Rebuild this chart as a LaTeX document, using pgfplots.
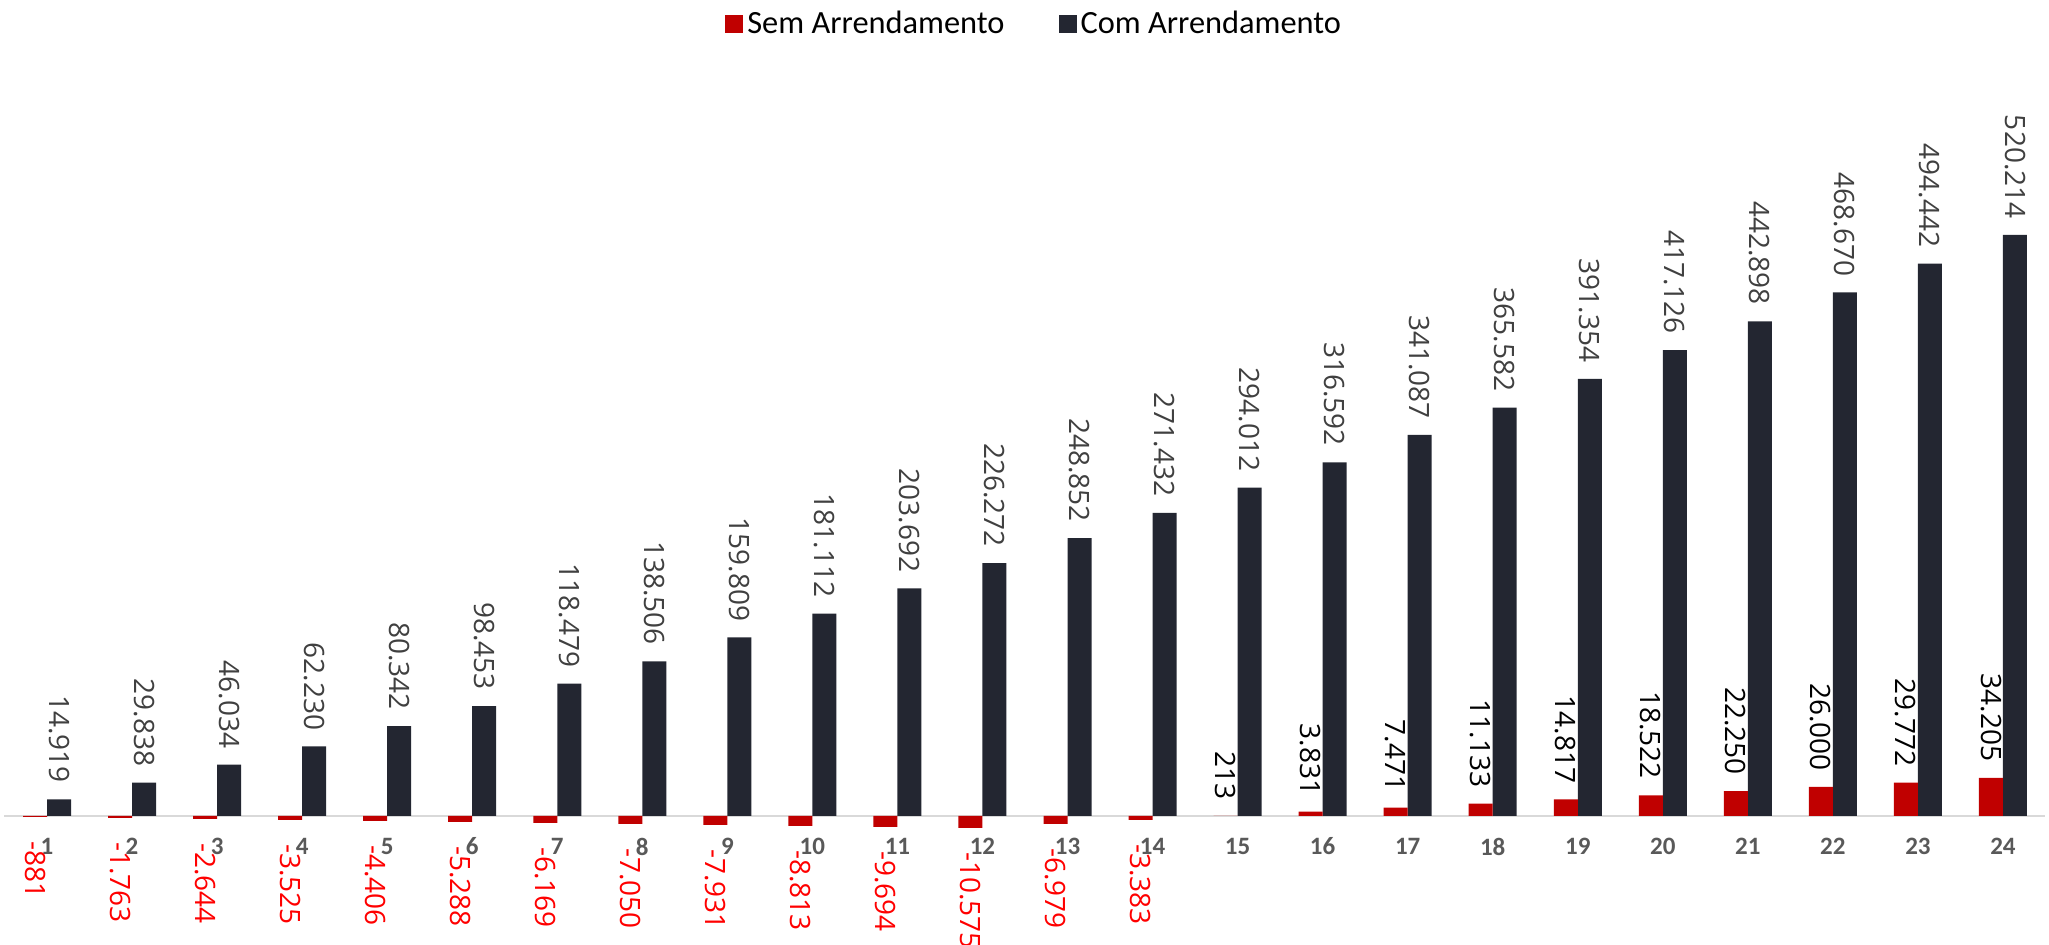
\documentclass[border=0pt]{standalone}
\usepackage{pgfplots}
\pgfplotsset{compat=1.18}
\usepackage{fontspec}
\setmainfont{Carlito}
\newfontfamily\labfont{Open Sans}
\definecolor{semred}{RGB}{192,0,0}
\definecolor{comdark}{RGB}{35,38,49}
\definecolor{labred}{RGB}{255,0,0}
\definecolor{labgray}{RGB}{64,64,64}
\definecolor{tickgray}{RGB}{89,89,89}
\definecolor{axisgray}{RGB}{217,217,217}
\begin{document}
\begin{tikzpicture}
\begin{axis}[
  at={(2.25pt,0pt)}, anchor=south west,
  scale only axis, width=1020.5pt, height=472.5pt,
  xmin=0.5, xmax=24.5, ymin=-115487, ymax=730524,
  ybar=0pt, bar width=12pt,
  axis line style={draw=none}, tick style={draw=none},
  xtick={1,...,24}, ytick=\empty,
  extra y ticks={0}, extra y tick labels={},
  extra y tick style={grid=major, major grid style={axisgray, line width=1pt}},
  /pgf/number format/assume math mode=true,
  /pgf/number format/fixed, /pgf/number format/precision=0,
  /pgf/number format/1000 sep={.},
  xticklabel style={anchor=center, yshift=53.5pt, font=\bfseries\fontsize{12.5}{15}\selectfont, text=tickgray},
  legend style={at={(0.505,0.9746)}, anchor=center, draw=none, fill=none,
    legend columns=2, font=\fontsize{16.2}{19}\selectfont,
    /tikz/every even column/.append style={column sep=25pt}},
  legend cell align=left,
]
\addplot[fill=semred, draw=none, bar shift=-6pt,
  legend image code/.code={\fill[semred] (0pt,-4.5pt) rectangle (9pt,4.5pt);},
  nodes near coords,
  nodes near coords style={rotate=-90, anchor=west, inner xsep=12pt, inner ysep=0pt,
    font=\labfont\fontsize{14}{16}\selectfont, text=labred}]
  coordinates {(1,-881) (2,-1763) (3,-2644) (4,-3525) (5,-4406) (6,-5288) (7,-6169)
    (8,-7050) (9,-7931) (10,-8813) (11,-9694) (12,-10575) (13,-6979) (14,-3383)};
\addlegendentry{Sem Arrendamento}
\addplot[fill=comdark, draw=none, bar shift=6pt,
  legend image code/.code={\fill[comdark] (0pt,-4.5pt) rectangle (9pt,4.5pt);},
  nodes near coords,
  nodes near coords style={rotate=-90, anchor=east, inner xsep=8pt, inner ysep=0pt,
    font=\labfont\fontsize{14}{16}\selectfont, text=labgray}]
  coordinates {(1,14919) (2,29838) (3,46034) (4,62230) (5,80342) (6,98453)
    (7,118479) (8,138506) (9,159809) (10,181112) (11,203692) (12,226272)
    (13,248852) (14,271432) (15,294012) (16,316592) (17,341087) (18,365582)
    (19,391354) (20,417126) (21,442898) (22,468670) (23,494442) (24,520214)};
\addlegendentry{Com Arrendamento}
\addplot[fill=semred, draw=none, bar shift=-6pt, forget plot,
  nodes near coords,
  nodes near coords style={rotate=-90, anchor=east, inner xsep=8pt, inner ysep=0pt,
    font=\labfont\fontsize{14}{16}\selectfont, text=black}]
  coordinates {(15,213) (16,3831) (17,7471) (18,11133) (19,14817) (20,18522)
    (21,22250) (22,26000) (23,29772) (24,34205)};
\end{axis}
\pgfresetboundingbox
\useasboundingbox (0,0) rectangle (1024.5pt,472.5pt);
\end{tikzpicture}
\end{document}
